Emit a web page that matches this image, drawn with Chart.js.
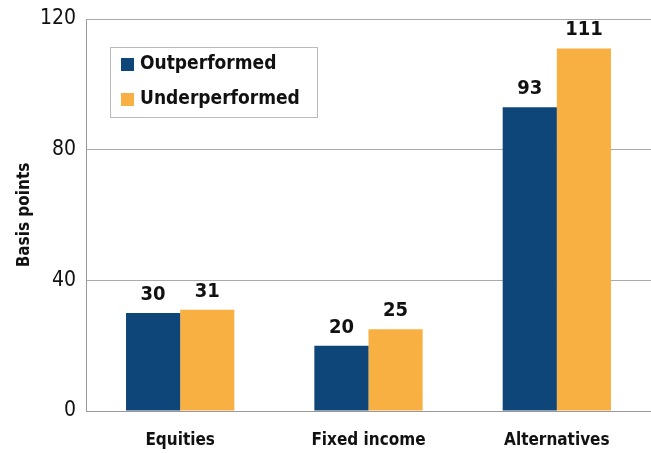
<!DOCTYPE html>
<html>
<head>
<meta charset="utf-8">
<script src="https://cdn.jsdelivr.net/npm/chart.js@4"></script>
<style>
  html, body { margin: 0; padding: 0; background: #fff; }
  #wrap { width: 651px; height: 453px; }
</style>
</head>
<body>
<div id="wrap"><canvas id="chart" width="651" height="453"></canvas></div>
<script>
// Datos del gráfico
const categories = ["Equities", "Fixed income", "Alternatives"];
const outperformed = [30, 20, 93];
const underperformed = [31, 25, 111];
const yTicks = [0, 40, 80, 120];

const FONT = "'DejaVu Sans Condensed', 'Liberation Sans', sans-serif";

// Etiquetas de valor encima de cada barra
const valueLabels = {
    id: 'valueLabels',
    afterDatasetsDraw(chart) {
        const ctx = chart.ctx;
        ctx.save();
        ctx.font = "bold 20px " + FONT;
        ctx.fillStyle = '#111';
        ctx.textAlign = 'center';
        ctx.textBaseline = 'alphabetic';
        chart.data.datasets.forEach((ds, i) => {
            chart.getDatasetMeta(i).data.forEach((bar, j) => {
                ctx.fillText(ds.data[j], bar.x, bar.y - 13);
            });
        });
        ctx.restore();
    }
};

// Leyenda dentro del área del gráfico
const boxLegend = {
    id: 'boxLegend',
    afterDraw(chart) {
        const ctx = chart.ctx;
        ctx.save();
        ctx.fillStyle = '#fff';
        ctx.fillRect(110, 47, 207, 70);
        ctx.strokeStyle = '#bbb';
        ctx.lineWidth = 1;
        ctx.strokeRect(110.5, 47.5, 207, 70);
        ctx.font = "bold 19px " + FONT;
        ctx.textBaseline = 'middle';
        ctx.textAlign = 'left';
        chart.data.datasets.forEach((ds, i) => {
            const y = 64 + i * 35;
            ctx.fillStyle = ds.backgroundColor;
            ctx.fillRect(121, y - 6, 13, 13);
            ctx.fillStyle = '#111';
            ctx.fillText(ds.label, 140, y);
        });
        ctx.restore();
    }
};

new Chart(document.getElementById('chart'), {
    type: 'bar',
    data: {
        labels: categories,
        datasets: [
            { label: 'Outperformed', data: outperformed, backgroundColor: '#0f4679' },
            { label: 'Underperformed', data: underperformed, backgroundColor: '#f9b042' }
        ]
    },
    options: {
        responsive: false,
        animation: false,
        layout: { padding: { top: 19, right: 0, left: 0, bottom: 0 } },
        datasets: { bar: { categoryPercentage: 0.575, barPercentage: 1.0 } },
        plugins: {
            legend: { display: false },
            tooltip: { enabled: false }
        },
        scales: {
            x: {
                grid: { display: false, drawTicks: false },
                border: { color: '#999', width: 1 },
                ticks: {
                    color: '#111',
                    padding: 19,
                    font: { family: FONT, size: 17, weight: 'bold' }
                },
                afterFit(scale) { scale.height = 42; }
            },
            y: {
                min: 0,
                max: 120,
                afterBuildTicks(scale) { scale.ticks = yTicks.map(v => ({ value: v })); },
                grid: { color: '#aaa', drawTicks: false },
                border: { color: '#999', width: 1 },
                ticks: {
                    color: '#111',
                    padding: 10,
                    font: { family: FONT, size: 21 }
                },
                title: {
                    display: true,
                    text: 'Basis points',
                    color: '#111',
                    padding: { top: 14, bottom: 0 },
                    font: { family: FONT, size: 17, weight: 'bold' }
                },
                afterFit(scale) {
                    scale.width = 86;
                    scale.paddingTop = 0;
                    scale.paddingBottom = 0;
                }
            }
        }
    },
    plugins: [valueLabels, boxLegend]
});
</script>
</body>
</html>
